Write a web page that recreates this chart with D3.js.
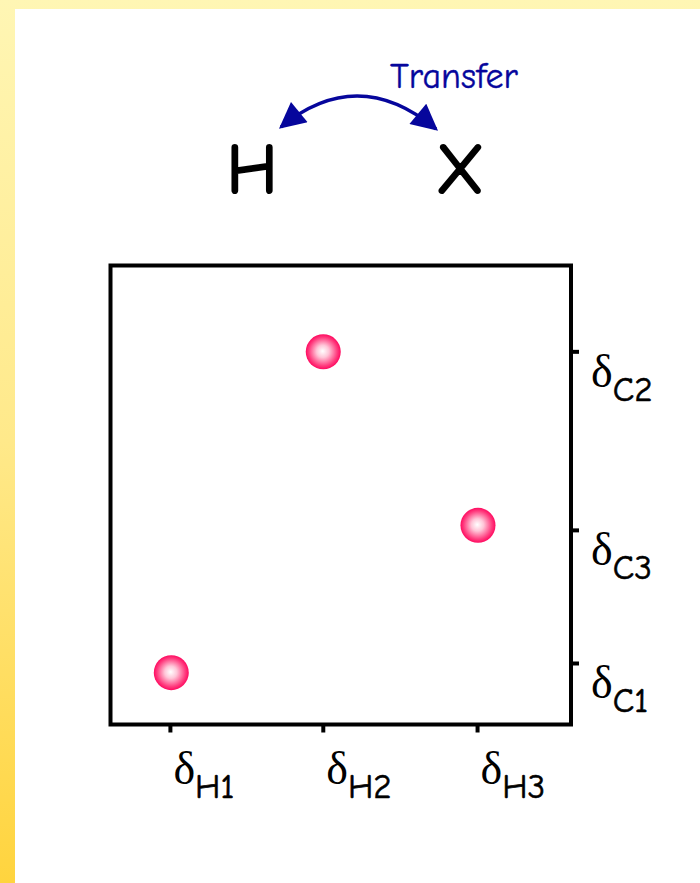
<!DOCTYPE html>
<html>
<head>
<meta charset="utf-8">
<script src="https://cdn.jsdelivr.net/npm/d3@7"></script>
<style>
  html, body { margin: 0; padding: 0; }
  body { width: 700px; height: 883px; overflow: hidden;
         background: linear-gradient(to bottom, #fff6b4 0%, #ffe98a 50%, #ffd43e 100%); }
  #chart { position: absolute; left: 15px; top: 9px; width: 685px; height: 874px; background: #fff; }
  svg { position: absolute; left: 0; top: 0; }
</style>
</head>
<body>
<div id="chart"></div>
<script>
// ---- data ----
let xTickLabels = ["H1", "H2", "H3"];
let xTickValues = [12.9, 46.1, 79.6];
let yTickLabels = ["C2", "C3", "C1"];
let yTickValues = [81.3, 42.4, 13.4];

let pointX = [13.2, 46.2, 79.8];
let pointY = [11.3, 81.2, 43.4];

let titleLeft = "H";
let titleRight = "X";
let arrowLabel = "Transfer";

// ---- setup ----
let margin = {top: 256.5, right: 114, bottom: 149.5, left: 95.5};
let fullW = 700, fullH = 883;
let width = 460.5, height = 459;
let comic = "'Comic Sans MS', 'Comic Neue', 'DejaVu Sans', sans-serif";

let svg = d3.select("body").append("svg")
	.attr("width", fullW)
	.attr("height", fullH);

let defs = svg.append("defs");
let grad = defs.append("radialGradient")
	.attr("id", "ball")
	.attr("cx", "50%").attr("cy", "50%").attr("r", "50%")
	.attr("fx", "48%").attr("fy", "48%");
grad.append("stop").attr("offset", "0%").attr("stop-color", "#ffffff");
grad.append("stop").attr("offset", "35%").attr("stop-color", "#ffc6d8");
grad.append("stop").attr("offset", "80%").attr("stop-color", "#ff3f80");
grad.append("stop").attr("offset", "100%").attr("stop-color", "#ff0a60");

let arrowId = "tri";
defs.append("marker")
	.attr("id", arrowId)
	.attr("viewBox", "0 0 10 10")
	.attr("refX", 9).attr("refY", 5)
	.attr("markerWidth", 8.5).attr("markerHeight", 7.5)
	.attr("markerUnits", "strokeWidth")
	.attr("orient", "auto-start-reverse")
	.append("path")
	.attr("d", "M0,0 L10,5 L0,10 Z")
	.attr("fill", "#06069c");

// offsets: white panel starts at (15, 9)
let g = svg.append("g")
	.attr("transform", "translate(" + (15 + margin.left) + "," + (9 + margin.top) + ")");

// scales
let x = d3.scaleLinear().domain([0, 100]).range([0, width]);
let y = d3.scaleLinear().domain([0, 100]).range([height, 0]);

// axes
let xAxis = d3.axisBottom(x).tickValues(xTickValues).tickSize(8).tickFormat("");
let yAxis = d3.axisRight(y).tickValues(yTickValues).tickSize(8).tickFormat("");

let gx = g.append("g").attr("class", "x-axis")
	.attr("transform", "translate(0," + height + ")")
	.call(xAxis);
let gy = g.append("g").attr("class", "y-axis")
	.attr("transform", "translate(" + width + ",0)")
	.call(yAxis);

g.selectAll(".domain").remove();
g.selectAll(".tick line").attr("stroke", "#000").attr("stroke-width", 4);

// frame
g.append("rect")
	.attr("x", 0).attr("y", 0)
	.attr("width", width).attr("height", height)
	.attr("fill", "none")
	.attr("stroke", "#000")
	.attr("stroke-width", 4);

// tick labels: delta + subscript
function deltaLabel(sel, sub) {
	sel.append("tspan")
		.attr("font-family", "'Liberation Serif', 'Times New Roman', serif")
		.attr("font-size", 46)
		.text("\u03b4");
	sel.append("tspan")
		.attr("font-family", comic)
		.attr("font-size", 35)
		.attr("stroke", "#000")
		.attr("stroke-width", 0.6)
		.attr("dy", 14)
		.text(sub);
}

gx.selectAll(".tick").each(function(d, i) {
	let t = d3.select(this).append("text")
		.attr("x", 3).attr("y", 59)
		.attr("fill", "#000")
		.attr("text-anchor", "start");
	deltaLabel(t, xTickLabels[i]);
});

gy.selectAll(".tick").each(function(d, i) {
	let t = d3.select(this).append("text")
		.attr("x", 20).attr("y", 35)
		.attr("fill", "#000")
		.attr("text-anchor", "start");
	deltaLabel(t, yTickLabels[i]);
});

// points
g.selectAll(".pt")
	.data(pointX.map((v, i) => ({x: v, y: pointY[i]})))
	.enter()
	.append("circle")
	.attr("class", "pt")
	.attr("cx", d => x(d.x))
	.attr("cy", d => y(d.y))
	.attr("r", 17.5)
	.attr("fill", "url(#ball)");

// title: H <-> X with transfer arrow
let title = svg.append("g");
[[titleLeft, 252], [titleRight, 460]].forEach(function(p) {
	title.append("text")
		.attr("x", p[1]).attr("y", 193)
		.attr("text-anchor", "middle")
		.attr("font-family", comic)
		.attr("font-size", 70)
		.attr("fill", "#000")
		.attr("stroke", "#000")
		.attr("stroke-width", 2.2)
		.attr("stroke-linejoin", "round")
		.text(p[0]);
});

title.append("path")
	.attr("d", "M281,127 Q358,64 436,129")
	.attr("fill", "none")
	.attr("stroke", "#06069c")
	.attr("stroke-width", 3.5)
	.attr("marker-start", "url(#" + arrowId + ")")
	.attr("marker-end", "url(#" + arrowId + ")");

title.append("text")
	.attr("x", 390).attr("y", 88)
	.attr("font-family", comic)
	.attr("font-size", 36)
	.attr("fill", "#06069c")
	.attr("stroke", "#06069c")
	.attr("stroke-width", 0.4)
	.text(arrowLabel);
</script>
</body>
</html>
